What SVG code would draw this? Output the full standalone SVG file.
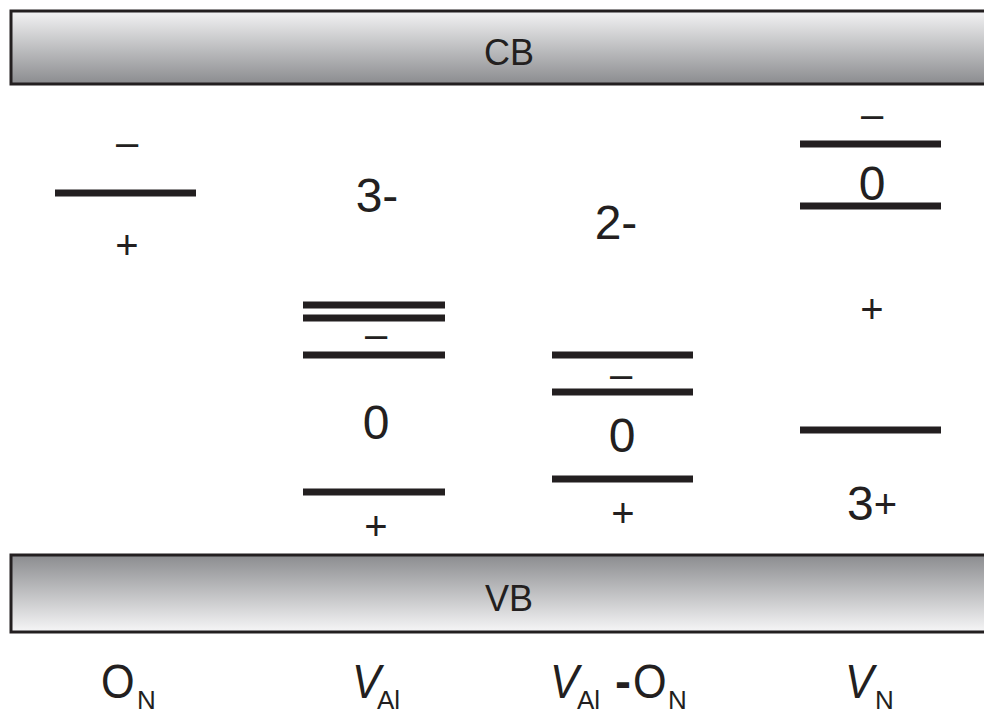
<svg xmlns="http://www.w3.org/2000/svg" width="984" height="714" viewBox="0 0 984 714">
<style>
.t{font-family:"Liberation Sans",Arial,sans-serif;fill:#231f20;text-anchor:middle}
.big{font-size:48px}
.ch{font-size:40px}
.band{font-size:36px}
.lab{font-size:48px;text-anchor:start}
.sub{font-size:26px;text-anchor:start}
.it{font-style:italic}
.lv{stroke:#231f20;stroke-width:7}
.bar{stroke:#231f20;stroke-width:3}
</style>
<defs>
<linearGradient id="gCB" x1="0" y1="0" x2="0" y2="1">
<stop offset="0" stop-color="#f3f3f4"/><stop offset="1" stop-color="#8b8c8f"/>
</linearGradient>
<linearGradient id="gVB" x1="0" y1="0" x2="0" y2="1">
<stop offset="0" stop-color="#8b8c8f"/><stop offset="1" stop-color="#f6f6f7"/>
</linearGradient>
</defs>
<rect width="984" height="714" fill="#ffffff"/>
<g id="CB">
<rect class="bar" x="11" y="11" width="990" height="73" fill="url(#gCB)"/>
<text class="t band" x="509" y="65">CB</text>
</g>
<g id="VB">
<rect class="bar" x="11" y="555" width="990" height="77" fill="url(#gVB)"/>
<text class="t band" x="509" y="611">VB</text>
</g>
<g id="ON">
<line class="lv" x1="55" y1="193" x2="196" y2="193"/>
<text class="t ch" x="127" y="156">–</text>
<text class="t ch" x="127" y="259">+</text>
<text class="t lab" transform="translate(101 698) scale(0.9 1)">O</text>
<text class="t sub" x="137" y="709">N</text>
</g>
<g id="VAl">
<line class="lv" x1="303" y1="305" x2="445" y2="305"/>
<line class="lv" x1="303" y1="318" x2="445" y2="318"/>
<line class="lv" x1="303" y1="355" x2="445" y2="355"/>
<line class="lv" x1="303" y1="492" x2="445" y2="492"/>
<text class="t big" x="377" y="212">3-</text>
<text class="t ch" x="376" y="348">–</text>
<text class="t big" x="376" y="439">0</text>
<text class="t ch" x="376" y="540">+</text>
<text class="t lab it" transform="translate(352 698) scale(0.9 1)">V</text>
<text class="t sub" x="377" y="709">Al</text>
</g>
<g id="VAl-ON">
<line class="lv" x1="552" y1="355" x2="693" y2="355"/>
<line class="lv" x1="552" y1="392" x2="693" y2="392"/>
<line class="lv" x1="552" y1="479" x2="693" y2="479"/>
<text class="t big" x="616" y="239">2-</text>
<text class="t ch" x="621" y="388">–</text>
<text class="t big" x="622" y="452">0</text>
<text class="t ch" x="623" y="527">+</text>
<text class="t lab it" transform="translate(550 698) scale(0.9 1)">V</text>
<text class="t sub" x="577" y="709">Al</text>
<text class="t lab" x="615" y="698" font-weight="bold">-</text>
<text class="t lab" transform="translate(633 698) scale(0.9 1)">O</text>
<text class="t sub" x="668" y="709">N</text>
</g>
<g id="VN">
<line class="lv" x1="800" y1="144" x2="941" y2="144"/>
<line class="lv" x1="800" y1="206" x2="941" y2="206"/>
<line class="lv" x1="800" y1="430" x2="941" y2="430"/>
<text class="t ch" x="872" y="128">–</text>
<text class="t big" x="872" y="200">0</text>
<text class="t ch" x="872" y="323">+</text>
<text class="t big" x="872" y="520">3<tspan class="ch" dy="-2">+</tspan></text>
<text class="t lab it" transform="translate(845 698) scale(0.9 1)">V</text>
<text class="t sub" x="875" y="709">N</text>
</g>
<g id="connectors"/>
</svg>
